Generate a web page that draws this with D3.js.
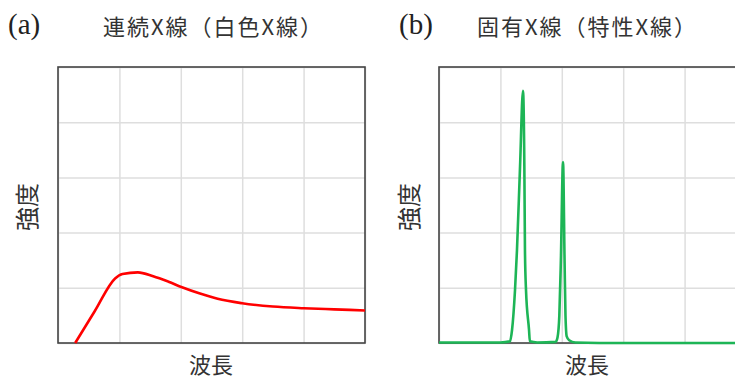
<!DOCTYPE html>
<meta charset="utf-8">
<style>
body { margin: 0; background: #fff; }
.grid path { stroke: none; }
.grid line { stroke: #dedede; stroke-width: 1.5; }
text.serif { font-family: "Liberation Serif", "DejaVu Serif", serif; }
text.jp { font-family: "Noto Sans CJK JP", sans-serif; }
</style>
<script src="https://d3js.org/d3.v7.min.js"></script>
<div id="viz"></div>
<script>
// continuous X-ray spectrum (panel a), grid units
var contX = [0.28, 0.6, 0.93, 1.05, 1.3, 1.55, 1.8, 2.02, 2.3, 2.6, 3.0, 3.5, 4.0, 4.5, 5.0];
var contY = [0, 0.58, 1.17, 1.25, 1.28, 1.21, 1.11, 1.01, 0.9, 0.8, 0.72, 0.66, 0.63, 0.61, 0.59];

// characteristic X-ray spectrum (panel b)
var charX = [0, 1.0, 1.156, 1.19, 1.238, 1.27, 1.32, 1.368, 1.39, 1.40, 1.417, 1.466, 1.48, 1.6,
             1.90, 1.93, 1.96, 1.985, 2.02, 2.045, 2.06, 2.08, 2.12, 2.22, 3.0, 5.0];
var charY = [0.01, 0.01, 0.03, 0.24, 0.96, 1.68, 3.2, 4.57, 3.2, 1.68, 0.96, 0.24, 0.03, 0.01,
             0.02, 0.1, 0.5, 1.5, 3.28, 1.5, 0.5, 0.12, 0.05, 0.01, 0.0, 0.0];

var panelLabels = ["(a)", "(b)"];
var titles = ["連続X線（白色X線）", "固有X線（特性X線）"];
var xLabel = "波長";
var yLabel = "強度";
var gridTicks = [0, 1, 2, 3, 4, 5];

var W = 735, H = 381;
var svg = d3.select("#viz").append("svg")
    .attr("width", W).attr("height", H);

var y = d3.scaleLinear().domain([0, 5]).range([343, 67]);

var panels = [
  { left: 58,  color: "#ff0000", xs: contX, ys: contY, lx: 8,   tx: 103, xl: 211, yl: 28 },
  { left: 439, color: "#1db556", xs: charX, ys: charY, lx: 399, tx: 477, xl: 587, yl: 410 }
];

panels.forEach(function(p, i) {
  var x = d3.scaleLinear().domain([0, 5]).range([p.left, p.left + 307]);
  var g = svg.append("g");

  // gridlines
  g.append("g").attr("class", "grid")
    .attr("transform", "translate(0," + y(0) + ")")
    .call(d3.axisBottom(x).tickValues(gridTicks).tickSize(-(y(0) - y(5))).tickFormat(""));
  g.append("g").attr("class", "grid")
    .attr("transform", "translate(" + x(0) + ",0)")
    .call(d3.axisLeft(y).tickValues(gridTicks).tickSize(-(x(5) - x(0))).tickFormat(""));

  // frame
  g.append("rect")
    .attr("x", x(0)).attr("y", y(5))
    .attr("width", x(5) - x(0)).attr("height", y(0) - y(5))
    .attr("fill", "none").attr("stroke", "#444").attr("stroke-width", 1.6);

  var pts = p.xs.map(function(v, k) { return [v, p.ys[k]]; });
  g.append("path")
    .datum(pts)
    .attr("fill", "none")
    .attr("stroke", p.color)
    .attr("stroke-width", 2.6)
    .attr("stroke-linejoin", "round")
    .attr("d", d3.line().x(function(d) { return x(d[0]); }).y(function(d) { return y(d[1]); }).curve(d3.curveMonotoneX));

  // texts
  g.append("text").attr("class", "serif")
    .attr("x", p.lx).attr("y", 34)
    .attr("font-size", 29).attr("fill", "#222")
    .text(panelLabels[i]);
  g.append("text").attr("class", "jp")
    .attr("x", p.tx).attr("y", 35)
    .attr("font-size", 22).attr("fill", "#333")
    .attr("textLength", 219).attr("lengthAdjust", "spacing")
    .text(titles[i]);
  g.append("text").attr("class", "jp")
    .attr("x", p.xl).attr("y", 373)
    .attr("text-anchor", "middle")
    .attr("font-size", 22).attr("fill", "#333")
    .text(xLabel);
  g.append("text").attr("class", "jp")
    .attr("transform", "translate(" + (p.yl + 8) + "," + 207 + ") rotate(-90)")
    .attr("text-anchor", "middle")
    .attr("font-size", 24).attr("fill", "#333")
    .text(yLabel);
});
</script>
